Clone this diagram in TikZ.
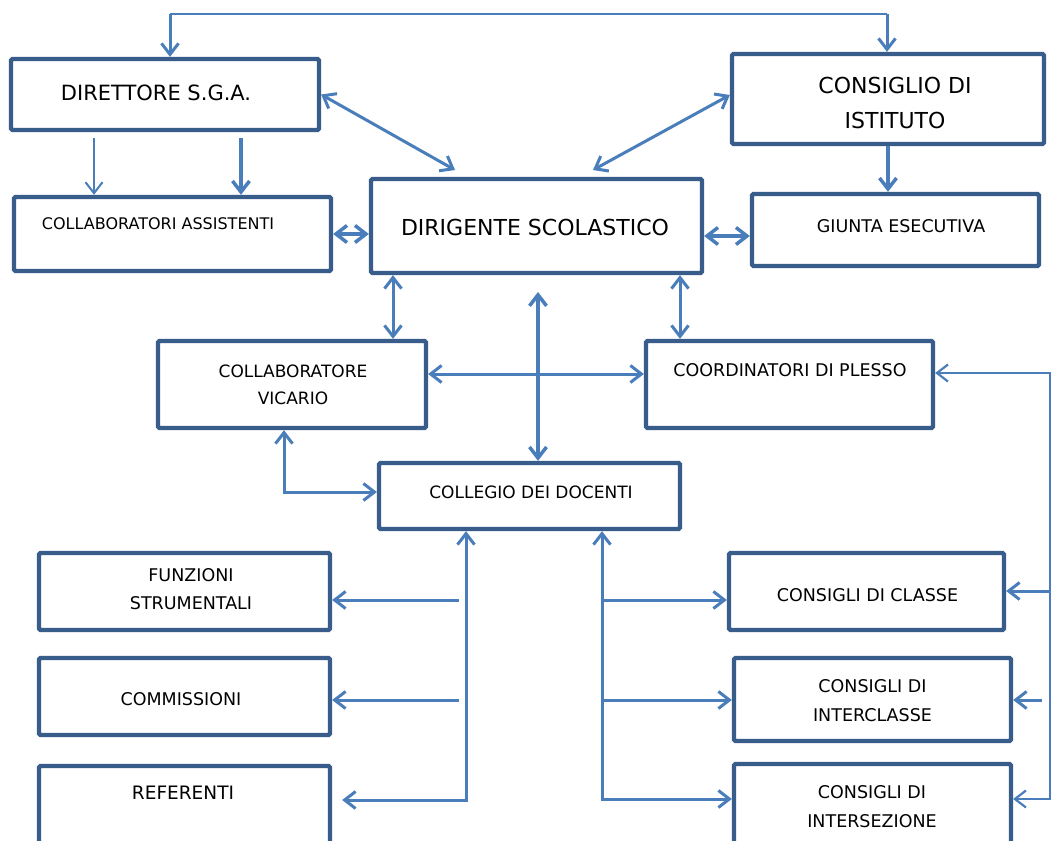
\documentclass[tikz,border=0pt]{standalone}
\usepackage{fontspec}
\setmainfont{DejaVu Sans}
\usetikzlibrary{arrows.meta,calc}
\definecolor{boxblue}{HTML}{385D8A}
\definecolor{lineblue}{HTML}{4A7EBB}
\begin{document}
\begin{tikzpicture}[x=1pt,y=-1pt,
  box/.style={draw=boxblue, fill=white, line width=4.3pt, rounded corners=1.5pt, inner sep=0pt},
  lab/.style={inner sep=0pt, align=center, text=black, font=\fontsize{17.5}{28}\selectfont},
  big/.style={inner sep=0pt, align=center, text=black, font=\fontsize{22}{35}\selectfont},
  conn/.style={draw=lineblue, line width=3pt},
  thinl/.style={draw=lineblue, line width=1.6pt},
  >={Straight Barb[length=11pt,width=17pt]}]
\useasboundingbox (0,0) rectangle (1053,841);
\clip (0,0) rectangle (1053,841);
\fill[white] (0,0) rectangle (1053,841);

% boxes
\node[box, minimum width=308pt, minimum height=71pt] (dir) at (165,94.5) {};
\node[box, minimum width=312pt, minimum height=90pt] (ci) at (888,99) {};
\node[box, minimum width=317pt, minimum height=74pt] (ca) at (172.5,234) {};
\node[box, minimum width=331pt, minimum height=94pt] (ds) at (536.5,226) {};
\node[box, minimum width=287pt, minimum height=72pt] (ge) at (895.5,230) {};
\node[box, minimum width=268pt, minimum height=87pt] (cv) at (292,384.5) {};
\node[box, minimum width=287pt, minimum height=87pt] (cp) at (789.5,384.5) {};
\node[box, minimum width=301pt, minimum height=66pt] (cd) at (529.5,496) {};
\node[box, minimum width=291pt, minimum height=77pt] (fs) at (184.5,591.5) {};
\node[box, minimum width=291pt, minimum height=77pt] (cm) at (184.5,696.5) {};
\node[box, minimum width=291pt, minimum height=105pt] (rf) at (184.5,818.5) {};
\node[box, minimum width=275pt, minimum height=77pt] (cc) at (866.5,591.5) {};
\node[box, minimum width=277pt, minimum height=83pt] (ic) at (872.5,699.5) {};
\node[box, minimum width=277pt, minimum height=107pt] (is) at (872.5,817.5) {};

% texts
\node[big, font=\fontsize{21}{35}\selectfont] (t-dir) at (156,93) {DIRETTORE S.G.A.};
\node[big] (t-ci) at (895,103) {CONSIGLIO DI\\ISTITUTO};
\node[lab, font=\fontsize{16}{28}\selectfont] (t-ca) at (158,224) {COLLABORATORI ASSISTENTI};
\node[big] (t-ds) at (535,227) {DIRIGENTE SCOLASTICO};
\node[lab] (t-ge) at (901,226.5) {GIUNTA ESECUTIVA};
\node[lab, font=\fontsize{17}{27}\selectfont] (t-cv) at (293,384.5) {COLLABORATORE\\VICARIO};
\node[lab] (t-cp) at (790,370) {COORDINATORI DI PLESSO};
\node[lab, font=\fontsize{17}{28}\selectfont] (t-cd) at (531,492.5) {COLLEGIO DEI DOCENTI};
\node[lab] (t-fs) at (191,589.5) {FUNZIONI\\STRUMENTALI};
\node[lab] (t-cm) at (181,699) {COMMISSIONI};
\node[lab, font=\fontsize{18.5}{28}\selectfont] (t-rf) at (183,793) {REFERENTI};
\node[lab] (t-cc) at (867.5,595.5) {CONSIGLI DI CLASSE};
\node[lab, font=\fontsize{17.5}{29}\selectfont] (t-ic) at (872.5,700.5) {CONSIGLI DI\\INTERCLASSE};
\node[lab, font=\fontsize{17.5}{29}\selectfont] (t-is) at (872,807) {CONSIGLI DI\\INTERSEZIONE};

% connectors
\coordinate (tl) at (170,14);
\coordinate (tr) at (887,14);
\draw[thinl] (tl) -- (tr);
\draw[conn,->] (tl) -- (dir.north -| tl);
\draw[conn,->] (tr) -- (ci.north -| tr);

\coordinate (dsl) at (455,170);
\coordinate (dsr) at (593,170);
\draw[conn,<->] (dir.east) -- (dsl);
\draw[conn,<->] ([yshift=4pt]ci.west) -- (dsr);

\coordinate (d1) at (94,138);
\coordinate (d2) at (241,138);
\draw[conn,->,line width=2pt] (d1) -- (ca.north -| d1);
\draw[conn,->,line width=3.5pt] (d2) -- (ca.north -| d2);

\draw[conn,->,line width=3.5pt] (ci.south) -- (ci.south |- ge.north);
\draw[conn,<->,line width=3.5pt] (ca.east) -- (ca.east -| ds.west);
\draw[conn,<->,line width=3.5pt] (ds.east |- 0,236) -- (ge.west |- 0,236);

\draw[conn,<->] (ds.south -| 393,0) -- (cv.north -| 393,0);
\draw[conn,<->] (ds.south -| 680,0) -- (cp.north -| 680,0);

\coordinate (xtop) at (538,292);
\draw[conn,<->,line width=3.5pt] (xtop) -- (cd.north -| xtop);
\draw[conn,<->] (cv.east |- 0,374) -- (cp.west |- 0,374);

\draw[conn,<->] (cv.south -| 284,0) |- (cd.west |- 0,492);

\coordinate (rfr) at ([xshift=10pt]rf.east);
\draw[conn,<->] (cd.south -| 466,0) |- (rfr |- 0,800);
\coordinate (lb1) at (459,600);
\coordinate (lb2) at (459,700);
\draw[conn,->] (lb1) -- (fs.east |- lb1);
\draw[conn,->] (lb2) -- (cm.east |- lb2);

\draw[conn,<->] (cd.south -| 602,0) |- (is.west |- 0,799);
\coordinate (rb1) at (602,600);
\coordinate (rb2) at (602,700);
\draw[conn,->] (rb1) -- (cc.west |- rb1);
\draw[conn,->] (rb2) -- (ic.west |- rb2);

\coordinate (fr) at (1050,799);
\draw[conn,<->,line width=2.2pt] (cp.east |- 0,373) -| (fr) -- (is.east |- fr);
\coordinate (fr1) at (1050,591);
\coordinate (fr2) at (1042,700);
\draw[conn,->] (fr1) -- (cc.east |- fr1);
\draw[conn,->] (fr2) -- (ic.east |- fr2);
\end{tikzpicture}
\end{document}
